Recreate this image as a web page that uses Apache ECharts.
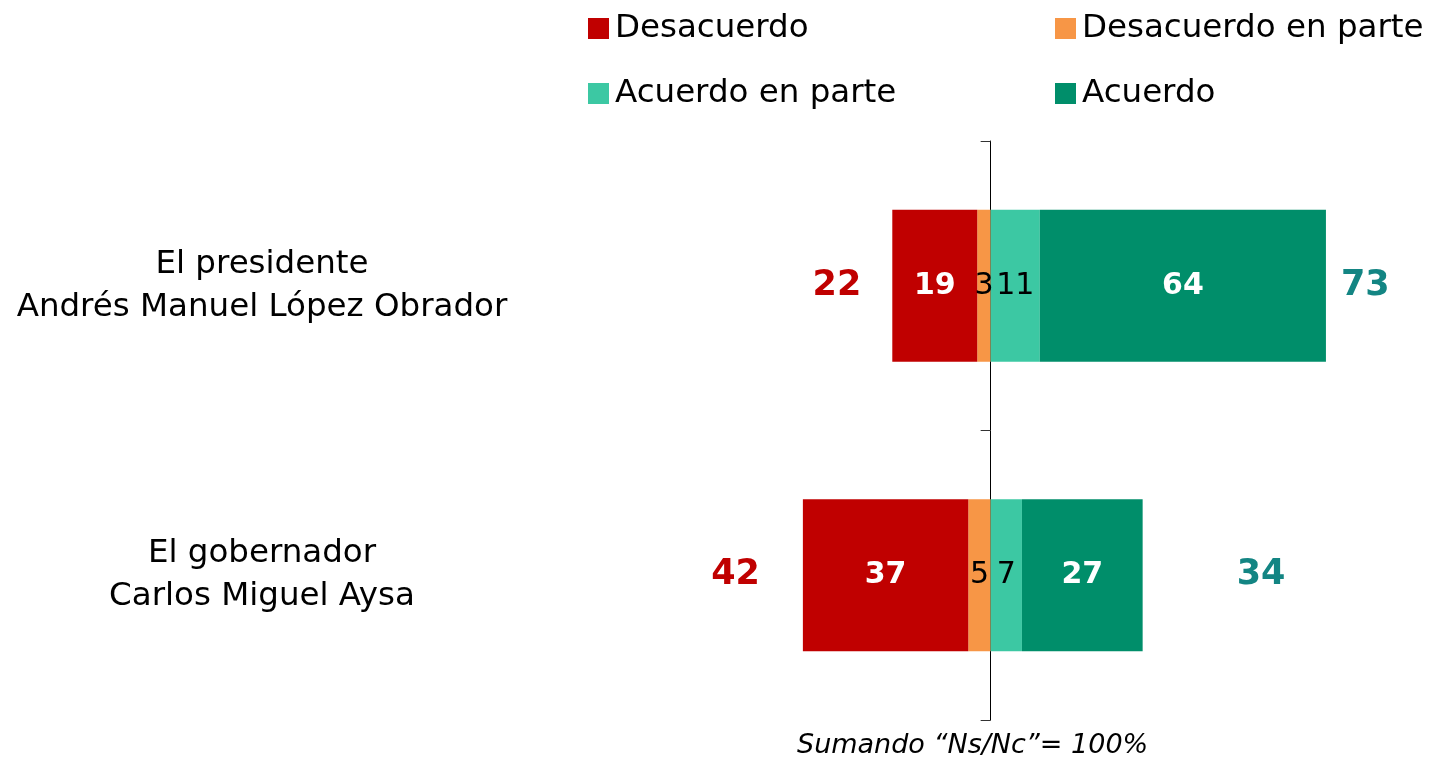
<!DOCTYPE html>
<html>
<head>
<meta charset="utf-8">
<script src="https://cdn.jsdelivr.net/npm/echarts@6/dist/echarts.min.js"></script>
<style>
  html, body { margin: 0; padding: 0; background: #fff; }
  #chart { width: 1429px; height: 758px; }
</style>
</head>
<body>
<div id="chart"></div>
<script>
  const categories = ['El presidente\nAndrés Manuel López Obrador', 'El gobernador\nCarlos Miguel Aysa'];
  const desacuerdo = [19, 37];
  const desacuerdoParte = [3, 5];
  const acuerdoParte = [11, 7];
  const acuerdo = [64, 27];
  const totalDesacuerdo = [22, 42];
  const totalAcuerdo = [73, 34];
  const nota = 'Sumando “Ns/Nc”= 100%';

  const FONT = "Tahoma, 'DejaVu Sans', sans-serif";

  const chart = echarts.init(document.getElementById('chart'));

  function barLabel(color, weight) {
    return {
      show: true,
      position: 'inside',
      color: color,
      fontFamily: FONT,
      fontSize: 30,
      fontWeight: weight,
      formatter: (p) => Math.abs(p.value),
    };
  }

  function legendAt(name, left, top) {
    return {
      data: [name],
      left: left, top: top, padding: 0,
      itemWidth: 21, itemHeight: 21,
      icon: 'rect',
      textStyle: { fontFamily: FONT, fontSize: 32.5, color: '#000', padding: [0, 0, 0, 1] },
    };
  }

  // totals sit at the end of each half bar
  const leftEnd = desacuerdo.map((v, i) => -(v + desacuerdoParte[i]));
  const rightEnd = acuerdo.map((v, i) => v + acuerdoParte[i]);
  const leftDist = [31, 43];
  const rightDist = [15, 94];

  const option = {
    animation: false,
    grid: { left: 633, width: 760, top: 141, bottom: 38, containLabel: false },
    legend: [
      legendAt('Desacuerdo', 588, 12),
      legendAt('Desacuerdo en parte', 1055, 12),
      legendAt('Acuerdo en parte', 588, 77),
      legendAt('Acuerdo', 1055, 77),
    ],
    title: {
      text: nota,
      left: 797, top: 732, padding: 0,
      textStyle: { fontFamily: FONT, fontSize: 27, fontStyle: 'italic', fontWeight: 'normal', color: '#000' },
    },
    xAxis: {
      type: 'value', min: -80, max: 90,
      show: false,
    },
    yAxis: [
      {
        type: 'category', data: categories, inverse: true,
        axisLine: { onZero: true, lineStyle: { color: '#000', width: 1 } },
        axisTick: { show: true, length: 10, lineStyle: { color: '#333' } },
        axisLabel: { show: false },
      },
      {
        type: 'category', data: categories, inverse: true, position: 'left',
        axisLine: { show: false, onZero: false },
        axisTick: { show: false },
        axisLabel: {
          align: 'center', margin: 371,
          fontFamily: FONT, fontSize: 32.5, lineHeight: 43, color: '#000',
        },
      },
    ],
    series: [
      {
        name: 'Desacuerdo en parte', type: 'bar', stack: 'total', barWidth: 152,
        data: desacuerdoParte.map((v) => -v),
        itemStyle: { color: '#f79646' },
        label: barLabel('#000', 'normal'),
      },
      {
        name: 'Desacuerdo', type: 'bar', stack: 'total', barWidth: 152,
        data: desacuerdo.map((v) => -v),
        itemStyle: { color: '#c00000' },
        label: barLabel('#fff', 'bold'),
      },
      {
        name: 'Acuerdo en parte', type: 'bar', stack: 'total', barWidth: 152,
        data: acuerdoParte,
        itemStyle: { color: '#3cc8a3' },
        label: barLabel('#000', 'normal'),
      },
      {
        name: 'Acuerdo', type: 'bar', stack: 'total', barWidth: 152,
        data: acuerdo,
        itemStyle: { color: '#008e6a' },
        label: barLabel('#fff', 'bold'),
      },
      {
        type: 'scatter', symbolSize: 0, silent: true,
        itemStyle: { opacity: 1 },
        data: totalDesacuerdo.map((v, i) => ({
          value: [leftEnd[i], i],
          label: { show: true, position: 'left', distance: leftDist[i], formatter: String(v) },
        })),
        label: { fontFamily: FONT, fontSize: 35, fontWeight: 'bold', color: '#c00000' },
      },
      {
        type: 'scatter', symbolSize: 0, silent: true,
        itemStyle: { opacity: 1 },
        data: totalAcuerdo.map((v, i) => ({
          value: [rightEnd[i], i],
          label: { show: true, position: 'right', distance: rightDist[i], formatter: String(v) },
        })),
        label: { fontFamily: FONT, fontSize: 35, fontWeight: 'bold', color: '#138583' },
      },
    ],
  };

  chart.setOption(option);
  window.addEventListener('resize', chart.resize);
</script>
</body>
</html>
